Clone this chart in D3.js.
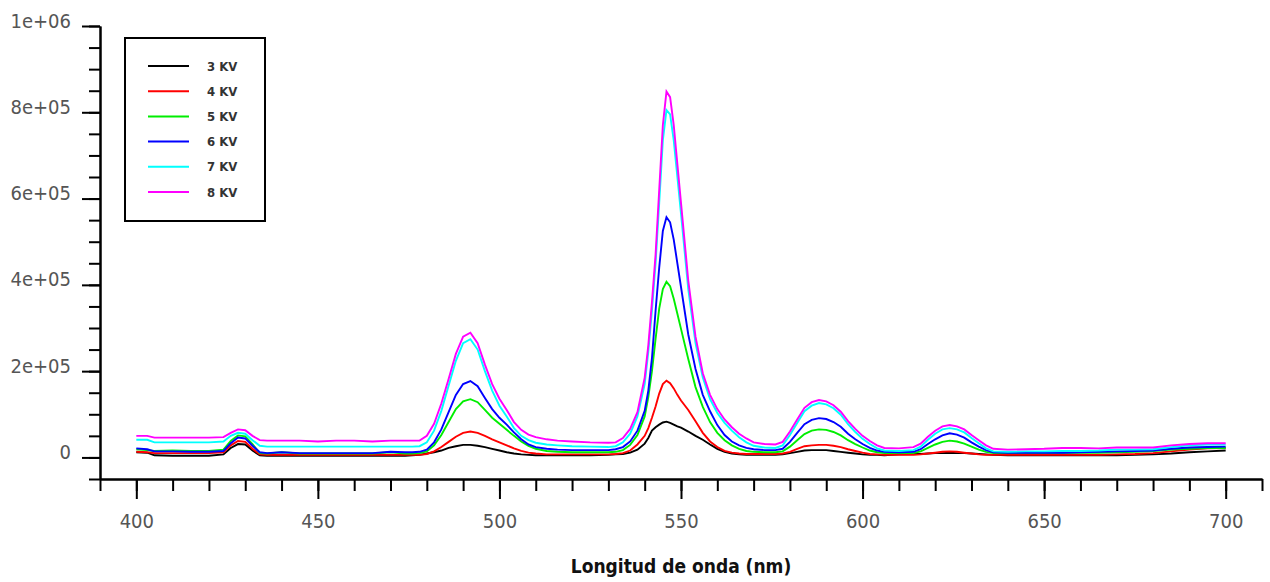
<!DOCTYPE html>
<html>
<head>
<meta charset="utf-8">
<script src="https://cdn.jsdelivr.net/npm/d3@7"></script>
<style>
  body { margin: 0; background: #fff; }
  text { font-family: "DejaVu Sans Condensed", "DejaVu Sans", sans-serif; font-stretch: condensed; }
  .axis path, .axis line { stroke: #000; stroke-width: 2; }
  .axis text { fill: #555; font-size: 20px; }
</style>
</head>
<body>
<div id="vis"></div>
<script>
const margin = { top: 26, right: 8, bottom: 103, left: 100 };
const width = 1270 - margin.left - margin.right;
const height = 582 - margin.top - margin.bottom;

// wavelength (nm) shared by every series
const wavelength = [
  400,403,405,410,415,420,424,426,428,430,432,434,436,440,445,450,455,460,465,470,474,
  476,478,480,482,484,486,488,490,492,494,496,498,500,502,504,506,508,510,513,516,520,525,
  530,532,534,536,538,540,541,542,543,544,545,546,547,548,549,550,552,554,556,558,560,562,564,566,568,570,573,576,
  578,580,582,584,586,588,590,592,594,596,598,600,602,604,606,610,614,616,618,620,622,624,626,628,630,632,634,636,640,645,650,655,660,665,670,675,680,685,690,695,700
]

// intensities, in thousands of counts
const kv3 = [
  12,11,5,4,4,4,7,22,31,30,16,5,4,4,4,4,4,4,4,4,4,
  5,6,9,12,16,22,26,29,29,27,24,20,16,12,9,7,6,5,5,5,5,5,
  6,7,8,11,18,32,45,62,70,76,81,83,80,76,72,69,60,50,41,30,20,13,9,7,6,6,6,6,
  7,10,13,16,17,17,17,15,13,11,9,7,6,6,5,7,8,8,9,10,10,11,10,10,9,8,7,6,5,5,5,5,5,5,5,6,7,9,12,14,16
]
const kv4 = [
  13,12,10,10,10,10,12,28,38,36,20,7,6,6,6,6,6,6,6,6,6,
  6,6,8,14,24,36,48,57,60,57,50,42,35,28,21,15,11,9,7,7,7,7,
  7,8,10,16,30,50,68,92,118,148,170,178,172,160,145,132,110,84,57,37,24,15,11,9,8,8,8,8,
  9,13,20,26,28,29,29,27,24,19,15,11,8,7,6,6,6,7,9,11,13,14,13,11,9,7,6,6,6,6,6,6,6,6,7,8,10,14,18,21,22
]
const kv5 = [
  19,17,15,16,15,15,18,38,51,49,31,10,9,12,9,9,9,9,9,12,9,
  9,10,14,28,52,82,112,130,135,128,110,92,78,64,50,37,27,20,15,13,12,12,
  12,13,17,29,52,95,140,200,275,345,390,407,397,368,333,298,228,163,117,82,57,40,28,20,15,13,12,12,
  14,25,40,54,62,65,64,59,51,40,31,23,16,12,10,10,10,14,22,30,36,39,37,32,25,18,13,10,10,10,10,10,11,11,12,13,15,18,20,22,22
]
const kv6 = [
  21,19,14,14,13,13,15,33,46,44,27,12,10,12,10,10,10,10,10,13,12,
  12,13,18,35,65,105,145,170,177,165,138,112,92,76,58,42,30,24,20,18,17,17,
  17,19,24,37,62,108,155,230,340,440,525,557,545,505,450,395,285,205,145,107,75,52,37,28,22,19,17,17,
  20,36,57,77,87,91,89,82,71,55,42,31,22,16,13,12,13,19,31,42,51,56,53,46,35,25,17,12,11,11,11,11,12,13,14,15,16,20,23,24,25
]
const kv7 = [
  41,41,35,35,35,35,37,50,57,55,40,27,25,25,25,25,25,25,25,25,25,
  25,26,35,62,108,166,224,265,274,250,200,155,120,95,68,50,40,34,30,28,26,25,
  24,26,35,55,95,170,245,340,450,590,735,805,795,735,650,565,390,265,185,135,103,80,62,47,35,27,23,22,
  28,52,80,107,120,126,123,114,99,77,59,43,31,21,16,15,17,25,41,55,65,68,65,58,45,33,21,14,13,14,14,15,15,16,18,18,19,24,28,30,30
]
const kv8 = [
  50,50,46,46,46,46,47,57,65,63,50,40,39,39,39,37,39,39,37,39,39,
  39,39,50,78,125,182,240,280,289,265,215,170,136,110,82,64,53,47,42,39,37,35,
  34,35,45,66,105,185,260,360,470,620,770,848,835,770,680,590,410,280,195,145,112,88,70,55,44,35,31,30,
  36,60,88,115,128,133,130,121,106,84,66,50,38,28,22,21,24,32,48,62,72,75,72,65,52,40,28,20,18,19,20,22,22,21,23,23,23,28,31,33,33
]

const seriesNames = ['3 KV', '4 KV', '5 KV', '6 KV', '7 KV', '8 KV']
const seriesColors = ['#000000', '#ff0000', '#00ee00', '#0000ff', '#00ffff', '#ff00ff']
const seriesValues = [kv3, kv4, kv5, kv6, kv7, kv8]

const yTickValues = [0, 200000, 400000, 600000, 800000, 1000000]
const yTickLabels = ['0', '2e+05', '4e+05', '6e+05', '8e+05', '1e+06']
const xTickValues = [400, 450, 500, 550, 600, 650, 700]

const series = seriesNames.map((name, i) => ({
    name: name,
    color: seriesColors[i],
    points: wavelength.map((w, j) => ({ wl: w, v: seriesValues[i][j] * 1000 }))
}))

const svg = d3.select('#vis')
    .append('svg')
    .attr('width', width + margin.left + margin.right)
    .attr('height', height + margin.top + margin.bottom)
    .append('g')
    .attr('transform', `translate(${margin.left},${margin.top})`);

const xScale = d3.scaleLinear().domain([390, 710]).range([0, width])
const yScale = d3.scaleLinear().domain([-50000, 1000000]).range([height, 0])

// minor ticks first, majors with labels on top
svg.append('g')
    .attr('class', 'axis')
    .attr('transform', `translate(0,${height})`)
    .call(d3.axisBottom(xScale).tickValues(d3.range(390, 711, 10)).tickSize(12).tickSizeOuter(0).tickFormat(''))
svg.append('g')
    .attr('class', 'axis')
    .attr('transform', `translate(0,${height})`)
    .call(d3.axisBottom(xScale).tickValues(xTickValues).tickSize(20).tickSizeOuter(0).tickPadding(15))

svg.append('g')
    .attr('class', 'axis')
    .call(d3.axisLeft(yScale).tickValues(d3.range(-50000, 1000001, 50000)).tickSize(11).tickSizeOuter(0).tickFormat(''))
svg.append('g')
    .attr('class', 'axis')
    .call(d3.axisLeft(yScale).tickValues(yTickValues).tickSize(18).tickSizeOuter(0).tickPadding(11)
        .tickFormat((d, i) => yTickLabels[i]))
    .selectAll('text')
    .attr('dy', '0.05em')

// x title
svg.append('text')
    .attr('x', xScale(550))
    .attr('y', height + 94)
    .attr('text-anchor', 'middle')
    .style('font-size', '19px')
    .style('font-weight', 'bold')
    .style('fill', '#111')
    .text('Longitud de onda (nm)')

const line = d3.line()
    .x(d => xScale(d.wl))
    .y(d => yScale(d.v))

svg.selectAll('.spectrum')
    .data(series)
    .enter()
    .append('path')
    .attr('class', 'spectrum')
    .attr('d', d => line(d.points))
    .style('fill', 'none')
    .style('stroke', d => d.color)
    .style('stroke-width', 1.9)

// legend
const legend = svg.append('g')
    .attr('transform', 'translate(25,12)')

legend.append('rect')
    .attr('width', 140)
    .attr('height', 183)
    .style('fill', '#fff')
    .style('stroke', '#000')
    .style('stroke-width', 2)

legend.selectAll('.legLine')
    .data(series)
    .enter()
    .append('line')
    .attr('x1', 23)
    .attr('x2', 64)
    .attr('y1', (d, i) => 28 + i * 25.2)
    .attr('y2', (d, i) => 28 + i * 25.2)
    .style('stroke', d => d.color)
    .style('stroke-width', 2)

legend.selectAll('.legText')
    .data(series)
    .enter()
    .append('text')
    .attr('x', 82)
    .attr('y', (d, i) => 28 + i * 25.2)
    .attr('dy', '0.35em')
    .style('font-size', '13px')
    .style('font-weight', 'bold')
    .style('fill', '#333')
    .text(d => d.name)
</script>
</body>
</html>
